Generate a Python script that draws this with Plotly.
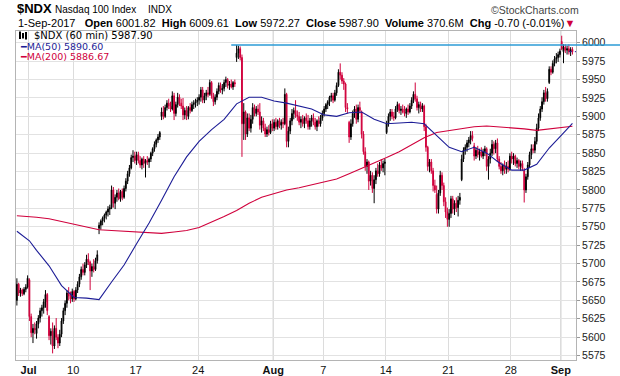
import plotly.graph_objects as go

# ---------------- data ----------------
day_names = ["Jun 30", "Jul 3", "Jul 5", "Jul 6", "Jul 7", "Jul 10", "Jul 11", "Jul 12", "Jul 13", "Jul 14",
             "Jul 17", "Jul 18", "Jul 19", "Jul 20", "Jul 21", "Jul 24", "Jul 25", "Jul 26", "Jul 27", "Jul 28",
             "Jul 31", "Aug 1", "Aug 2", "Aug 3", "Aug 4", "Aug 7", "Aug 8", "Aug 9", "Aug 10", "Aug 11",
             "Aug 14", "Aug 15", "Aug 16", "Aug 17", "Aug 18", "Aug 21", "Aug 22", "Aug 23", "Aug 24", "Aug 25",
             "Aug 28", "Aug 29", "Aug 30", "Aug 31", "Sep 1"]
bars_per_day = [7, 4] + [7] * 43

tick_days = ["Jul 3", "Jul 10", "Jul 17", "Jul 24", "Aug 1", "Aug 7", "Aug 14", "Aug 21", "Aug 28", "Sep 1"]
tick_text = ["Jul", "10", "17", "24", "Aug", "7", "14", "21", "28", "Sep"]
month_ticks = ["Jul", "Aug", "Sep"]

y_ticks = [5575, 5600, 5625, 5650, 5675, 5700, 5725, 5750, 5775, 5800, 5825, 5850, 5875,
           5900, 5925, 5950, 5975, 6000]

opens = [
    5650, 5672, 5660, 5664, 5659, 5665, 5668,
    5678, 5628, 5606, 5612,
    5605, 5618, 5626, 5636, 5640, 5648, 5658,
    5628, 5602, 5608, 5588, 5612, 5600, 5592,
    5604, 5622, 5636, 5646, 5660, 5656, 5652,
    5662, 5652, 5664, 5672, 5682, 5692, 5688,
    5698, 5706, 5702, 5690, 5696, 5692, 5704,
    5748, 5752, 5758, 5762, 5766, 5770, 5774,
    5776, 5800, 5782, 5790, 5796, 5788, 5798,
    5790, 5802, 5812, 5822, 5830, 5844, 5846,
    5840, 5848, 5840, 5834, 5842, 5836, 5840,
    5838, 5842, 5850, 5856, 5862, 5868, 5872,
    5900, 5906, 5900, 5912, 5918, 5914, 5910,
    5928, 5904, 5916, 5926, 5918, 5914, 5902,
    5908, 5900, 5912, 5908, 5916, 5918, 5920,
    5922, 5926, 5936, 5922, 5928, 5932, 5930,
    5946, 5928, 5920, 5926, 5934, 5942, 5936,
    5938, 5946, 5950, 5942, 5944, 5940, 5946,
    5980, 5986, 5992, 5980, 5890, 5906, 5876,
    5898, 5884, 5896, 5912, 5904, 5910, 5906,
    5888, 5894, 5884, 5876, 5882, 5878, 5890,
    5884, 5892, 5886, 5894, 5888, 5892, 5890,
    5930, 5866, 5880, 5894, 5904, 5908, 5902,
    5900, 5892, 5896, 5890, 5898, 5894, 5886,
    5894, 5898, 5892, 5886, 5894, 5890, 5898,
    5904, 5910, 5916, 5920, 5926, 5928, 5922,
    5932, 5942, 5960, 5956, 5948, 5944, 5912,
    5892, 5872, 5890, 5904, 5910, 5896, 5912,
    5906, 5876, 5852, 5832, 5838, 5812, 5820,
    5802, 5814, 5826, 5822, 5834, 5830, 5836,
    5878, 5890, 5900, 5906, 5900, 5898, 5910,
    5916, 5908, 5910, 5906, 5904, 5910, 5906,
    5914, 5922, 5930, 5924, 5912, 5916, 5910,
    5914, 5886, 5858, 5832, 5838, 5826, 5806,
    5794, 5774, 5796, 5820, 5806, 5784, 5770,
    5760, 5768, 5788, 5774, 5782, 5776, 5786,
    5814, 5842, 5854, 5858, 5864, 5868, 5874,
    5860, 5846, 5854, 5848, 5852, 5846, 5852,
    5856, 5832, 5842, 5850, 5862, 5856, 5864,
    5842, 5832, 5826, 5834, 5828, 5832, 5828,
    5846, 5842, 5846, 5836, 5840, 5832, 5836,
    5826, 5800, 5818, 5834, 5848, 5856, 5854,
    5866, 5884, 5898, 5910, 5920, 5932, 5924,
    5946, 5964, 5960, 5972, 5978, 5980, 5984,
    6001.82, 5988, 5994, 5990, 5992, 5988, 5991,
]
highs = [
    5680, 5674, 5667, 5666, 5668, 5672, 5684,
    5680, 5632, 5618, 5620,
    5622, 5630, 5640, 5644, 5652, 5664, 5660,
    5630, 5612, 5620, 5616, 5626, 5604, 5610,
    5626, 5640, 5650, 5664, 5668, 5662, 5666,
    5664, 5668, 5676, 5686, 5696, 5700, 5702,
    5712, 5714, 5704, 5700, 5706, 5708, 5718,
    5756, 5760, 5764, 5768, 5772, 5778, 5780,
    5806, 5804, 5794, 5800, 5802, 5800, 5802,
    5806, 5816, 5826, 5834, 5848, 5854, 5852,
    5852, 5852, 5846, 5844, 5846, 5842, 5846,
    5844, 5852, 5858, 5866, 5870, 5876, 5880,
    5912, 5914, 5916, 5922, 5924, 5920, 5934,
    5932, 5920, 5932, 5930, 5924, 5925, 5912,
    5914, 5914, 5918, 5920, 5922, 5924, 5926,
    5930, 5940, 5940, 5932, 5936, 5940, 5950,
    5948, 5932, 5930, 5938, 5946, 5946, 5944,
    5950, 5954, 5952, 5948, 5950, 5948, 5950,
    5997, 5996, 5995, 5984, 5918, 5908, 5904,
    5904, 5902, 5918, 5916, 5914, 5916, 5918,
    5900, 5898, 5890, 5886, 5888, 5894, 5896,
    5896, 5898, 5896, 5898, 5896, 5898, 5938,
    5932, 5886, 5898, 5910, 5912, 5922, 5908,
    5906, 5900, 5902, 5900, 5904, 5902, 5898,
    5902, 5904, 5898, 5896, 5900, 5902, 5908,
    5914, 5918, 5922, 5928, 5932, 5932, 5936,
    5946, 5964, 5972, 5960, 5952, 5946, 5918,
    5894, 5896, 5908, 5914, 5916, 5916, 5920,
    5908, 5880, 5858, 5842, 5840, 5826, 5824,
    5820, 5830, 5836, 5838, 5842, 5840, 5842,
    5894, 5904, 5910, 5910, 5906, 5914, 5920,
    5918, 5914, 5916, 5914, 5912, 5916, 5918,
    5926, 5934, 5946, 5928, 5920, 5920, 5918,
    5916, 5890, 5860, 5842, 5842, 5830, 5814,
    5806, 5800, 5826, 5824, 5810, 5790, 5776,
    5774, 5792, 5792, 5786, 5790, 5792, 5796,
    5848, 5858, 5862, 5868, 5872, 5880, 5880,
    5864, 5858, 5860, 5856, 5858, 5856, 5860,
    5858, 5846, 5856, 5868, 5866, 5868, 5870,
    5846, 5838, 5836, 5840, 5838, 5840, 5850,
    5852, 5850, 5848, 5844, 5842, 5840, 5840,
    5830, 5822, 5838, 5852, 5862, 5862, 5872,
    5890, 5904, 5914, 5926, 5936, 5940, 5938,
    5968, 5968, 5976, 5982, 5986, 5988, 5992,
    6009.61, 5998, 5998, 5996, 5998, 5994, 5994,
]
lows = [
    5643, 5656, 5655, 5656, 5657, 5661, 5666,
    5622, 5600, 5592, 5604,
    5598, 5612, 5620, 5628, 5632, 5640, 5630,
    5596, 5590, 5578, 5584, 5596, 5585, 5588,
    5600, 5618, 5630, 5640, 5650, 5646, 5648,
    5648, 5650, 5660, 5668, 5678, 5684, 5684,
    5694, 5698, 5664, 5682, 5688, 5690, 5700,
    5740, 5746, 5752, 5756, 5760, 5764, 5766,
    5774, 5776, 5774, 5784, 5786, 5784, 5786,
    5788, 5798, 5808, 5818, 5828, 5838, 5836,
    5834, 5836, 5830, 5828, 5830, 5817, 5834,
    5830, 5838, 5846, 5852, 5858, 5864, 5868,
    5895, 5896, 5898, 5908, 5910, 5906, 5908,
    5895, 5900, 5912, 5914, 5910, 5895, 5896,
    5895, 5896, 5904, 5906, 5910, 5912, 5914,
    5916, 5920, 5918, 5918, 5922, 5926, 5928,
    5924, 5914, 5916, 5922, 5930, 5932, 5930,
    5934, 5940, 5938, 5936, 5938, 5936, 5940,
    5974, 5978, 5976, 5845, 5868, 5868, 5872,
    5880, 5878, 5890, 5900, 5900, 5902, 5882,
    5878, 5880, 5872, 5872, 5874, 5876, 5880,
    5880, 5882, 5882, 5884, 5882, 5884, 5888,
    5858, 5858, 5876, 5888, 5896, 5898, 5894,
    5888, 5884, 5886, 5884, 5890, 5882, 5882,
    5886, 5888, 5882, 5880, 5886, 5886, 5894,
    5900, 5906, 5910, 5914, 5920, 5918, 5920,
    5928, 5940, 5950, 5944, 5936, 5906, 5904,
    5864, 5868, 5886, 5898, 5890, 5892, 5904,
    5870, 5848, 5826, 5822, 5800, 5806, 5796,
    5782, 5808, 5818, 5818, 5826, 5824, 5820,
    5876, 5886, 5894, 5896, 5894, 5896, 5906,
    5904, 5902, 5904, 5900, 5898, 5902, 5904,
    5910, 5918, 5920, 5908, 5904, 5906, 5906,
    5880, 5852, 5826, 5824, 5822, 5798, 5796,
    5768, 5768, 5792, 5800, 5778, 5762, 5750,
    5750, 5762, 5768, 5766, 5770, 5764, 5780,
    5812, 5838, 5848, 5852, 5858, 5862, 5866,
    5840, 5842, 5844, 5840, 5844, 5842, 5846,
    5826, 5814, 5836, 5846, 5848, 5850, 5838,
    5828, 5822, 5820, 5822, 5822, 5824, 5826,
    5836, 5834, 5832, 5830, 5828, 5826, 5826,
    5783, 5796, 5814, 5830, 5842, 5850, 5850,
    5862, 5880, 5894, 5906, 5916, 5920, 5920,
    5944, 5956, 5958, 5968, 5972, 5974, 5980,
    5990, 5972.27, 5986, 5984, 5984, 5982, 5984,
]
closes = [
    5672, 5660, 5664, 5659, 5665, 5668, 5680,
    5628, 5606, 5612, 5610,
    5618, 5626, 5636, 5640, 5648, 5658, 5636,
    5602, 5608, 5588, 5612, 5600, 5592, 5604,
    5622, 5636, 5646, 5660, 5656, 5652, 5662,
    5652, 5664, 5672, 5682, 5692, 5688, 5698,
    5706, 5702, 5690, 5696, 5692, 5704, 5712,
    5752, 5758, 5762, 5766, 5770, 5774, 5776,
    5800, 5782, 5790, 5796, 5788, 5798, 5790,
    5802, 5812, 5822, 5830, 5844, 5846, 5840,
    5848, 5840, 5834, 5842, 5836, 5840, 5838,
    5842, 5850, 5856, 5862, 5868, 5872, 5878,
    5906, 5900, 5912, 5918, 5914, 5910, 5928,
    5904, 5916, 5926, 5918, 5914, 5902, 5908,
    5900, 5912, 5908, 5916, 5918, 5920, 5922,
    5926, 5936, 5922, 5928, 5932, 5930, 5946,
    5928, 5920, 5926, 5934, 5942, 5936, 5938,
    5946, 5950, 5942, 5944, 5940, 5946, 5944,
    5986, 5992, 5980, 5890, 5906, 5876, 5898,
    5884, 5896, 5912, 5904, 5910, 5906, 5888,
    5894, 5884, 5876, 5882, 5878, 5890, 5884,
    5892, 5886, 5894, 5888, 5892, 5890, 5930,
    5866, 5880, 5894, 5904, 5908, 5902, 5900,
    5892, 5896, 5890, 5898, 5894, 5886, 5894,
    5898, 5892, 5886, 5894, 5890, 5898, 5904,
    5910, 5916, 5920, 5926, 5928, 5922, 5932,
    5942, 5960, 5956, 5948, 5944, 5912, 5910,
    5872, 5890, 5904, 5910, 5896, 5912, 5908,
    5876, 5852, 5832, 5838, 5812, 5820, 5802,
    5814, 5826, 5822, 5834, 5830, 5836, 5838,
    5890, 5900, 5906, 5900, 5898, 5910, 5916,
    5908, 5910, 5906, 5904, 5910, 5906, 5914,
    5922, 5930, 5924, 5912, 5916, 5910, 5914,
    5886, 5858, 5832, 5838, 5826, 5806, 5800,
    5774, 5796, 5820, 5806, 5784, 5770, 5760,
    5768, 5788, 5774, 5782, 5776, 5786, 5790,
    5842, 5854, 5858, 5864, 5868, 5874, 5870,
    5846, 5854, 5848, 5852, 5846, 5852, 5856,
    5832, 5842, 5850, 5862, 5856, 5864, 5842,
    5832, 5826, 5834, 5828, 5832, 5828, 5846,
    5842, 5846, 5836, 5840, 5832, 5836, 5830,
    5800, 5818, 5834, 5848, 5856, 5854, 5866,
    5884, 5898, 5910, 5920, 5932, 5924, 5934,
    5964, 5960, 5972, 5978, 5980, 5984, 5988.60,
    5992, 5994, 5990, 5992, 5988, 5991, 5987.90,
]

# moving averages read at the first bar of every day (plus the last bar)
ma50 = [5744, 5731, 5718, 5697, 5670, 5654, 5653, 5651, 5675, 5698,
        5727, 5755, 5786, 5818, 5845, 5866, 5882, 5896, 5917, 5926,
        5926, 5921, 5918, 5914, 5910, 5902, 5900, 5905, 5906, 5896,
        5890, 5891, 5892, 5890, 5874, 5858, 5852, 5858, 5850, 5837,
        5827, 5827, 5835, 5857, 5875, 5890.60]
ma200 = [5765, 5764, 5763, 5761, 5757, 5754, 5750, 5746, 5745, 5744,
         5743, 5742, 5741, 5743, 5745, 5749, 5756, 5764, 5772, 5782,
         5790, 5795, 5800, 5803, 5807, 5811, 5815, 5822, 5829, 5836,
         5844, 5852, 5862, 5871, 5878, 5881, 5883, 5886, 5887, 5886,
         5885, 5883, 5881, 5883, 5885, 5886.67]

resistance_level = 5997
resistance_from_day = "Jul 26"

header_date = "1-Sep-2017"
header_volume = "370.6M"
header_chg = "-0.70 (-0.01%)"

# ---------------- derived positions ----------------
n_bars = sum(bars_per_day)
assert n_bars == len(opens) == len(highs) == len(lows) == len(closes)
day_start = {}
pos = 0
for name, nb in zip(day_names, bars_per_day):
    day_start[name] = pos
    pos += nb
bar_x = list(range(n_bars))
ma_x = [day_start[d] for d in day_names] + [n_bars - 1]

X_MIN, X_MAX = -0.5, n_bars + 1
Y_MIN, Y_MAX = 5569, 6016

RED = "#d0003c"
NAVY = "#1c1c96"

fig = go.Figure()

fig.add_trace(go.Candlestick(
    x=bar_x, open=opens, high=highs, low=lows, close=closes,
    increasing=dict(line=dict(color="#000000", width=1), fillcolor="#000000"),
    decreasing=dict(line=dict(color=RED, width=1), fillcolor=RED),
    whiskerwidth=0, hoverinfo="skip", showlegend=False))

fig.add_trace(go.Scatter(x=ma_x, y=ma200, mode="lines",
                         line=dict(color=RED, width=1.1), hoverinfo="skip"))
fig.add_trace(go.Scatter(x=ma_x, y=ma50, mode="lines",
                         line=dict(color=NAVY, width=1.1), hoverinfo="skip"))
# last-close marker
fig.add_trace(go.Scatter(x=[n_bars - 3, X_MAX], y=[closes[-1], closes[-1]], mode="lines",
                         line=dict(color=NAVY, width=1, dash="dot"), hoverinfo="skip"))

tick_vals = [day_start[d] - 0.5 for d in tick_days]
tick_labels = [f"<b>{t}</b>" if t in month_ticks else t for t in tick_text]

shapes = []
for v, t in zip(tick_vals, tick_text):
    if t in month_ticks:
        shapes.append(dict(type="line", xref="x", yref="paper", x0=v, x1=v, y0=0, y1=1,
                           line=dict(color="#bdbdbd", width=1), layer="below"))

# resistance line (extends past plot to the right edge)
x0p = (day_start[resistance_from_day] + 4 - X_MIN) / (X_MAX - X_MIN)
shapes.append(dict(type="line", xref="paper", yref="y", x0=x0p, x1=1.08,
                   y0=resistance_level, y1=resistance_level,
                   line=dict(color="#2b9bd6", width=1.5), layer="above"))

L, R, T, B = 16, 44, 31, 16
W, H = 620, 376
PW, PH = W - L - R, H - T - B


def px(x):
    return (x - L) / PW


def py(y):
    return (H - B - y) / PH


FONT = "Liberation Sans, Arial, sans-serif"
VFONT = "DejaVu Sans, Verdana, sans-serif"

ann = []
ann.append(dict(x=px(15), y=py(9), text="<b>$NDX</b>", font=dict(family=FONT, size=13, color="#000")))
ann.append(dict(x=px(53), y=py(9.5), text="Nasdaq 100 Index", font=dict(family=FONT, size=10, color="#000")))
ann.append(dict(x=px(146), y=py(9.5), text="INDX", font=dict(family=FONT, size=10, color="#000")))
ann.append(dict(x=px(581), y=py(10), text="©StockCharts.com", xanchor="right",
                font=dict(family=FONT, size=10.5, color="#444")))
row2 = (f"{header_date}   <b>Open</b> {opens[-7]:.2f}  <b>High</b> {max(highs[-7:]):.2f}  "
        f"<b>Low</b> {min(lows[-7:]):.2f}  <b>Close</b> {closes[-1]:.2f}  <b>Volume</b> {header_volume}  "
        f"<b>Chg</b> {header_chg}<span style='color:{RED}'>▼</span>")
ann.append(dict(x=px(16), y=py(23), text=row2, font=dict(family=FONT, size=11, color="#000")))

ann.append(dict(x=px(32), y=py(35.5), text=f"$NDX (60 min) {closes[-1]:.2f}",
                font=dict(family=VFONT, size=10, color="#000")))
ann.append(dict(x=px(18), y=py(46), text=f"━MA(50) {ma50[-1]:.2f}",
                font=dict(family=VFONT, size=9.5, color=NAVY)))
ann.append(dict(x=px(18), y=py(57), text=f"━MA(200) {ma200[-1]:.2f}",
                font=dict(family=VFONT, size=9.5, color=RED)))
for a in ann:
    a.update(xref="paper", yref="paper", showarrow=False, yanchor="middle")
    a.setdefault("xanchor", "left")

# tiny candle icon in legend
for i, (yt, yb) in enumerate([(31.5, 39), (33, 38.5), (32, 39.5)]):
    xx = 20 + i * 3
    shapes.append(dict(type="line", xref="paper", yref="paper", x0=px(xx), x1=px(xx),
                       y0=py(yb), y1=py(yt), line=dict(color="#000", width=2)))

fig.update_layout(
    width=W, height=H, margin=dict(l=L, r=R, t=T, b=B, pad=0, autoexpand=False),
    paper_bgcolor="white", plot_bgcolor="white", showlegend=False, hovermode=False,
    font=dict(family=FONT, size=10, color="#222"),
    boxgap=0.35,
    xaxis=dict(range=[X_MIN, X_MAX], tickmode="array", tickvals=tick_vals, ticktext=tick_labels,
               showgrid=True, gridcolor="#dcdcdc", gridwidth=1, zeroline=False,
               showline=True, linecolor="#b4b4b4", mirror=True, ticks="", automargin=False,
               tickfont=dict(family=FONT, size=11, color="#111"),
               rangeslider=dict(visible=False), fixedrange=True),
    yaxis=dict(side="right", range=[Y_MIN, Y_MAX], tickmode="array", tickvals=y_ticks,
               ticktext=[str(v) for v in y_ticks], automargin=False,
               showgrid=True, gridcolor="#e2e2e2", gridwidth=1, zeroline=False,
               showline=True, linecolor="#b4b4b4", mirror=True,
               ticks="outside", ticklen=3, tickcolor="#999",
               tickfont=dict(family=FONT, size=10.5, color="#222"), fixedrange=True),
    shapes=shapes, annotations=ann,
)

fig.write_html("out.html", config={"displayModeBar": False},
               post_script="document.body.style.margin='0px';document.body.style.overflow='hidden';")
